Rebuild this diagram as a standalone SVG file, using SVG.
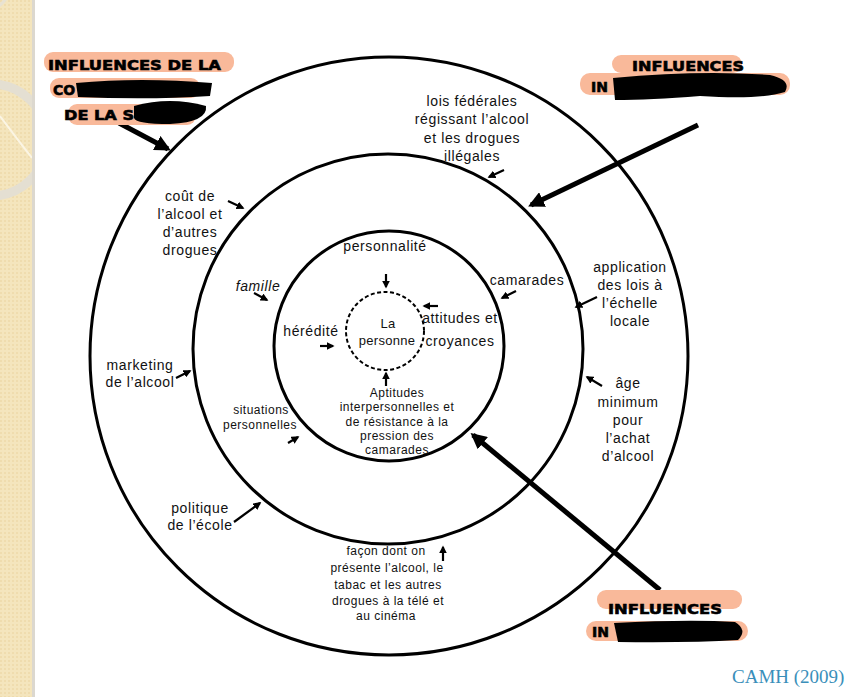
<svg xmlns="http://www.w3.org/2000/svg" width="862" height="697" viewBox="0 0 862 697">
<defs>
<style>
.t{font-family:"Liberation Sans","DejaVu Sans",sans-serif;font-size:14px;letter-spacing:0.6px;fill:#111;text-anchor:middle}
.s{font-size:12px;letter-spacing:0.5px}
.h{font-family:"DejaVu Sans","Liberation Sans",sans-serif;font-weight:bold;font-size:14px;fill:#000;stroke:#000;stroke-width:0.6}
.ring{fill:none;stroke:#000;stroke-width:3}
.pill{fill:#f9b99a}
.red{fill:#000}
.a{stroke:#000;stroke-width:2.2;fill:none;marker-end:url(#sm)}
.A{stroke:#000;stroke-width:5;fill:none;marker-end:url(#bg)}
</style>
<marker id="sm" viewBox="0 0 10 10" refX="8" refY="5" markerWidth="3.6" markerHeight="3.6" orient="auto"><path d="M0,0 L10,5 L0,10 z" fill="#000"/></marker>
<marker id="bg" viewBox="0 0 10 10" refX="8" refY="5" markerWidth="3.2" markerHeight="3.2" orient="auto"><path d="M0,0 L10,5 L0,10 z" fill="#000"/></marker>
<pattern id="tex" width="4" height="4" patternUnits="userSpaceOnUse"><rect width="4" height="4" fill="#f4e5bd"/><rect width="2" height="2" fill="#efdcae"/></pattern>
<clipPath id="strip"><rect x="0" y="0" width="32" height="697"/></clipPath>
</defs>
<rect width="862" height="697" fill="#fff"/>
<g id="decor">
<rect x="0" y="0" width="32" height="697" fill="url(#tex)"/>
<rect x="32" y="0" width="3" height="697" fill="#dcd8cf"/>
<g clip-path="url(#strip)">
<circle cx="-9" cy="140" r="56" fill="none" stroke="#e4dfd2" stroke-width="9"/>
<path d="M0,116 Q18,140 32,158" fill="none" stroke="#fbf5e4" stroke-width="2"/>
<circle cx="-20" cy="-20" r="32" fill="none" stroke="#e8e2d2" stroke-width="3"/>
</g>
</g>
<g id="rings">
<circle class="ring" cx="389" cy="356" r="299"/>
<circle class="ring" cx="388" cy="349" r="195"/>
<circle class="ring" cx="389" cy="346" r="115"/>
<circle cx="385" cy="331" r="39" fill="none" stroke="#000" stroke-width="2" stroke-dasharray="4 2.5"/>
</g>
<g id="connectors">
<path class="A" d="M119,123 L168,149"/>
<path class="A" d="M698,125 L531,205"/>
<path class="A" d="M660,590 L473,435"/>
<path class="a" d="M504,170 L489,177"/>
<path class="a" d="M228,201 L243,208"/>
<path class="a" d="M254,293 L267,300"/>
<path class="a" d="M176,378 L190,371"/>
<path class="a" d="M288,443 L298,437"/>
<path class="a" d="M320,346 L333,346"/>
<path class="a" d="M386,274 L386,287"/>
<path class="a" d="M438,306 L424,306"/>
<path class="a" d="M386,386 L386,373"/>
<path class="a" d="M516,291 L502,298"/>
<path class="a" d="M597,297 L576,307"/>
<path class="a" d="M602,386 L587,377"/>
<path class="a" d="M234,522 L260,503"/>
<path class="a" d="M443,561 L443,547"/>
</g>
<g id="label-collectivite">
<rect class="pill" x="44" y="52" width="190" height="20" rx="9"/>
<rect class="pill" x="50" y="78" width="150" height="20" rx="9"/>
<rect class="pill" x="68" y="104" width="128" height="21" rx="9"/>
<text class="h" x="48" y="70" textLength="173" lengthAdjust="spacingAndGlyphs">INFLUENCES DE LA</text>
<text class="h" x="53" y="95">CO</text>
<text class="h" x="64" y="120" textLength="70" lengthAdjust="spacingAndGlyphs">DE LA S</text>
<path class="red" d="M76,83 Q140,77 212,83 L210,96 Q150,100 78,97 z"/>
<path class="red" d="M134,106 Q170,96 206,106 Q208,122 170,124 Q136,124 134,118 z"/>
</g>
<g id="label-top-right">
<rect class="pill" x="612" y="55" width="130" height="18" rx="9"/>
<rect class="pill" x="580" y="73" width="210" height="22" rx="10"/>
<text class="h" x="632" y="71" textLength="112" lengthAdjust="spacingAndGlyphs">INFLUENCES</text>
<text class="h" x="591" y="92">IN</text>
<path class="red" d="M613,78 Q700,70 770,75 Q792,80 785,92 Q760,100 700,96 Q650,100 615,100 z"/>
</g>
<g id="label-bottom-right">
<rect class="pill" x="597" y="590" width="145" height="19" rx="9"/>
<rect class="pill" x="586" y="621" width="162" height="20" rx="10"/>
<text class="h" x="608" y="614" textLength="114" lengthAdjust="spacingAndGlyphs">INFLUENCES</text>
<text class="h" x="592" y="637">IN</text>
<path class="red" d="M614,623 Q690,619 735,622 Q748,630 738,640 Q690,643 618,642 z"/>
</g>
<g id="n-lois">
<text class="t" x="472" y="106">lois fédérales</text>
<text class="t" x="472" y="124">régissant l’alcool</text>
<text class="t" x="472" y="143">et les drogues</text>
<text class="t" x="472" y="161">illégales</text>
</g>
<g id="n-cout">
<text class="t" x="190" y="201">coût de</text>
<text class="t" x="190" y="219">l’alcool et</text>
<text class="t" x="190" y="237">d’autres</text>
<text class="t" x="190" y="255">drogues</text>
</g>
<g id="n-famille"><text class="t" x="258" y="291" font-style="italic">famille</text></g>
<g id="n-personnalite"><text class="t" x="385" y="251">personnalité</text></g>
<g id="n-camarades"><text class="t" x="527" y="285">camarades</text></g>
<g id="n-application">
<text class="t" x="630" y="272">application</text>
<text class="t" x="630" y="290">des lois à</text>
<text class="t" x="630" y="308">l’échelle</text>
<text class="t" x="630" y="326">locale</text>
</g>
<g id="n-heredite"><text class="t" x="311" y="336">hérédité</text></g>
<g id="n-personne">
<text class="t" x="388" y="328" style="font-size:13px;letter-spacing:0.3px">La</text>
<text class="t" x="387" y="345" style="font-size:13px;letter-spacing:0.3px">personne</text>
</g>
<g id="n-attitudes">
<text class="t" x="460" y="323">attitudes et</text>
<text class="t" x="460" y="346">croyances</text>
</g>
<g id="n-marketing">
<text class="t" x="140" y="370">marketing</text>
<text class="t" x="140" y="387">de l’alcool</text>
</g>
<g id="n-age">
<text class="t" x="628" y="388">âge</text>
<text class="t" x="628" y="407">minimum</text>
<text class="t" x="628" y="425">pour</text>
<text class="t" x="628" y="443">l’achat</text>
<text class="t" x="628" y="461">d’alcool</text>
</g>
<g id="n-situations">
<text class="t s" x="261" y="414">situations</text>
<text class="t s" x="260" y="429">personnelles</text>
</g>
<g id="n-aptitudes">
<text class="t s" x="397" y="397">Aptitudes</text>
<text class="t s" x="397" y="411">interpersonnelles et</text>
<text class="t s" x="397" y="426">de résistance à la</text>
<text class="t s" x="397" y="440">pression des</text>
<text class="t s" x="397" y="454">camarades</text>
</g>
<g id="n-politique">
<text class="t" x="200" y="513">politique</text>
<text class="t" x="200" y="530">de l’école</text>
</g>
<g id="n-facon">
<text class="t s" x="386" y="555">façon dont on</text>
<text class="t s" x="387" y="572">présente l’alcool, le</text>
<text class="t s" x="388" y="589">tabac et les autres</text>
<text class="t s" x="388" y="605">drogues à la télé et</text>
<text class="t s" x="386" y="620">au cinéma</text>
</g>
<text x="732" y="683" font-family="Liberation Serif, serif" font-size="19" fill="#3a8fba">CAMH (2009)</text>
</svg>
